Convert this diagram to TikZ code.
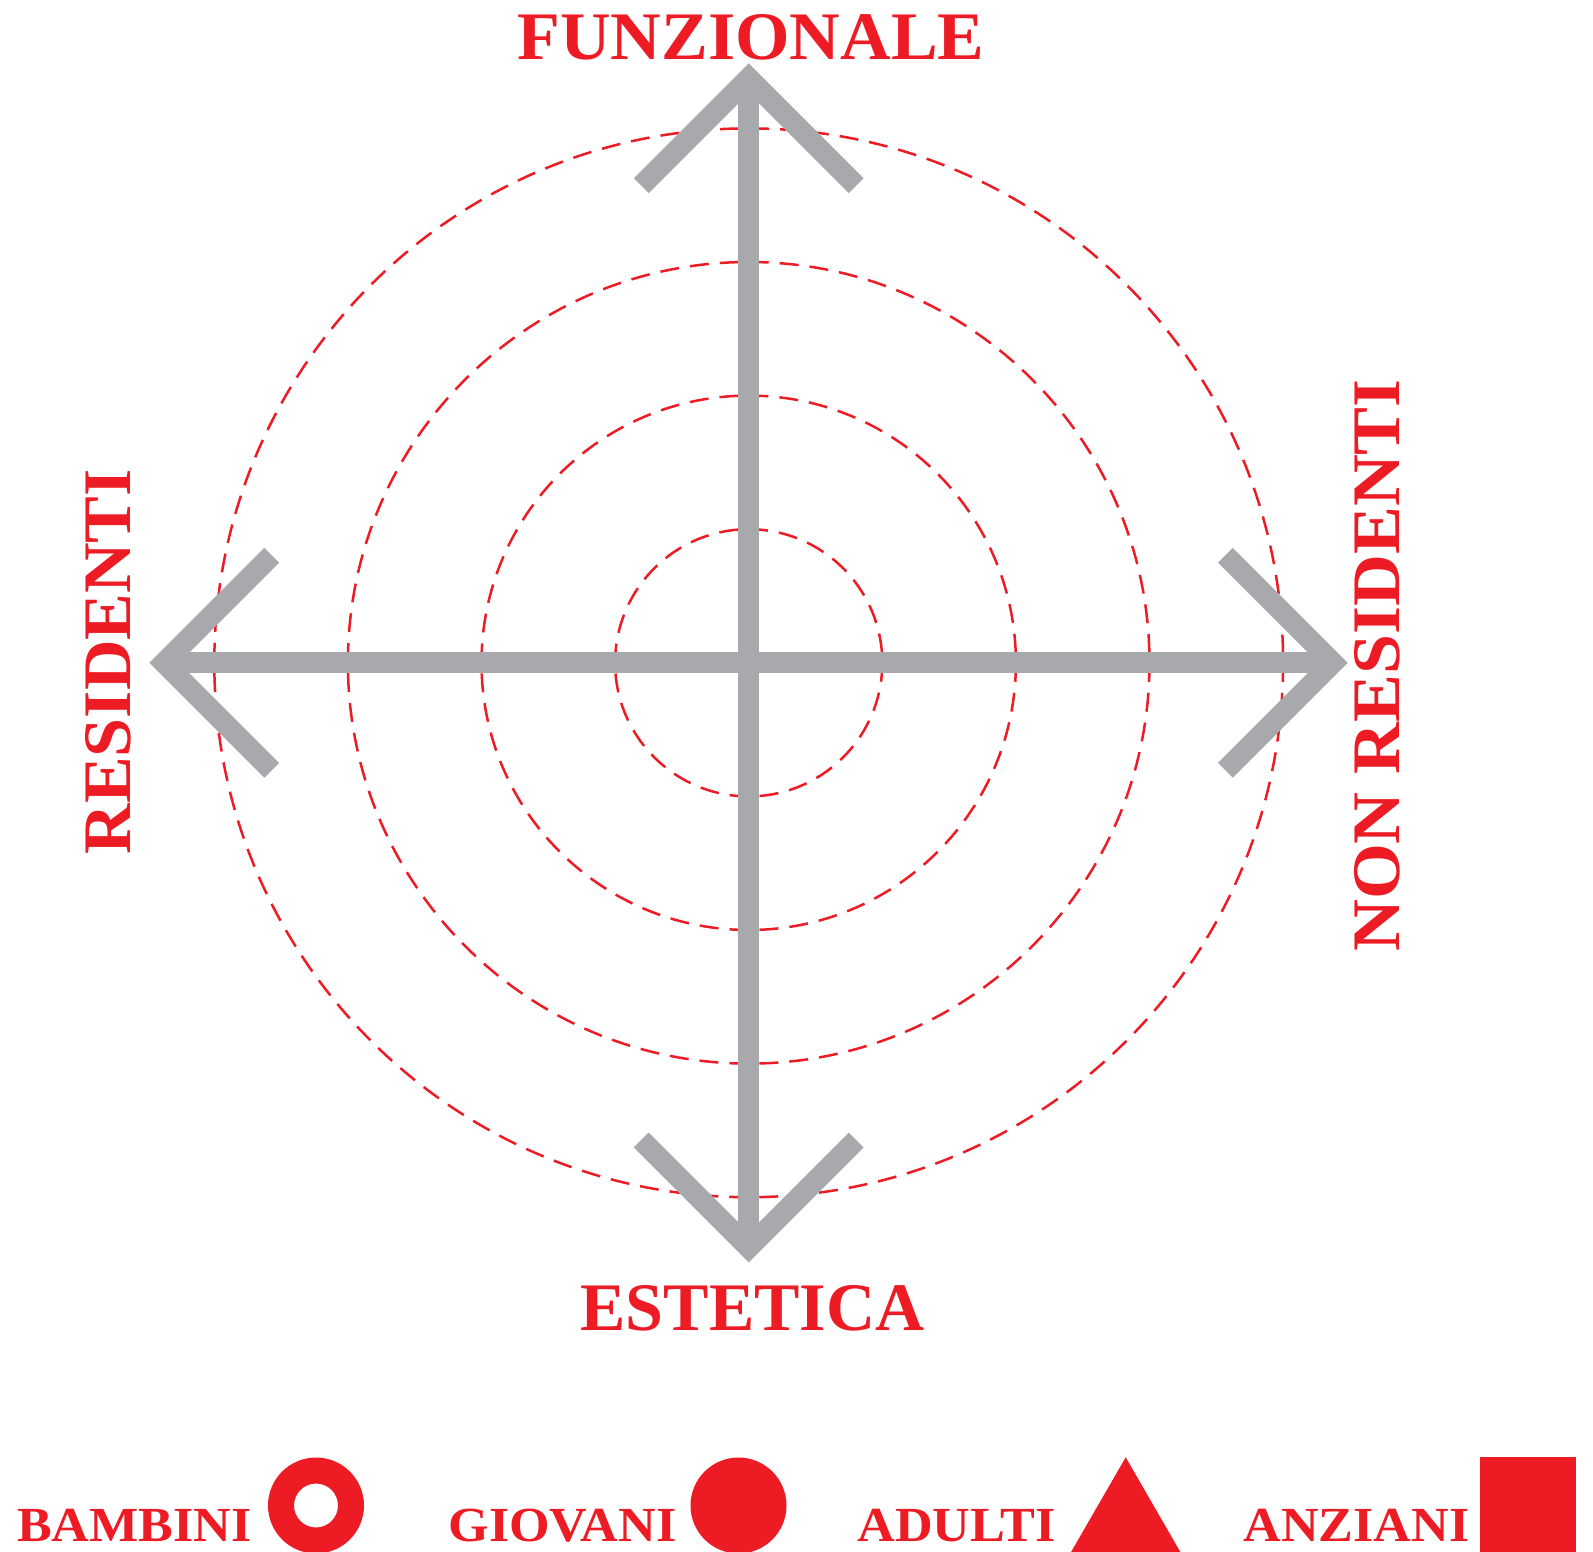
\documentclass[tikz,border=0pt]{standalone}
\usepackage{fontspec}
\usetikzlibrary{calc}
\newfontfamily\labfont{Liberation Serif}[FakeStretch=1.03]
\newfontfamily\labfontn{Liberation Serif}[FakeStretch=1.0]
\newfontfamily\labfontw{Liberation Serif}[FakeStretch=1.056]
\newfontfamily\legfont{Liberation Serif}[FakeStretch=1.065]
\definecolor{myred}{HTML}{ED1C24}
\definecolor{mygray}{HTML}{A7A9AC}
\tikzset{
  ring/.style={draw=myred, line width=2.5pt, dash pattern=on 19pt off 11pt},
  axis/.style={draw=mygray, line width=21pt},
  chev/.style={draw=mygray, line width=21pt, line join=miter, miter limit=10},
  biglabel/.style={text=myred, inner sep=0pt, anchor=base, font=\labfont\bfseries\fontsize{68}{80}\selectfont},
  leglabel/.style={text=myred, inner sep=0pt, anchor=base, font=\legfont\bfseries\fontsize{49}{58}\selectfont},
  legsym/.style={fill=myred}
}
\begin{document}
\begin{tikzpicture}[x=1pt,y=-1pt]
\useasboundingbox (0,0) rectangle (1593,1552);
\coordinate (C) at (748.7,662.8);
\coordinate (N) at (748.7,78.2);
\coordinate (S) at (748.7,1247.5);
\coordinate (W) at (164.2,662.8);
\coordinate (E) at (1332.9,662.8);
% dashed circles
\foreach \r in {133.6,267.2,400.8,534.4}{
  \draw[ring] (C) circle[radius=\r];
}
% axes
\draw[axis] (N) -- (S);
\draw[axis] (W) -- (E);
% arrow heads
\draw[chev] ($(N)+(-107.5,107.5)$) -- (N) -- ($(N)+(107.5,107.5)$);
\draw[chev] ($(S)+(-107.5,-107.5)$) -- (S) -- ($(S)+(107.5,-107.5)$);
\draw[chev] ($(W)+(107.5,-107.5)$) -- (W) -- ($(W)+(107.5,107.5)$);
\draw[chev] ($(E)+(-107.5,-107.5)$) -- (E) -- ($(E)+(-107.5,107.5)$);
% labels
\node[biglabel] (fun) at (751,60) {FUNZIONALE};
\node[biglabel, font=\labfontn\bfseries\fontsize{68}{80}\selectfont] (est) at (752.5,1330.5) {ESTETICA};
\node[biglabel, rotate=90] (res) at (130,661.7) {RESIDENTI};
\node[biglabel, rotate=90, font=\labfontw\bfseries\fontsize{68}{80}\selectfont] (nres) at (1399,665.5) {NON RESIDENTI};
% legend
\node[leglabel] (bam) at (134.5,1541) {BAMBINI};
\node[leglabel] (gio) at (562.5,1541) {GIOVANI};
\node[leglabel] (adu) at (956.5,1541) {ADULTI};
\node[leglabel] (anz) at (1356.5,1541) {ANZIANI};
\fill[legsym, even odd rule] (316,1505.5) circle[radius=48] (316,1505.5) circle[radius=22];
\fill[legsym] (738.5,1505.5) circle[radius=48];
\fill[legsym] (1125.7,1457.3) -- (1181.1,1553.3) -- (1070.3,1553.3) -- cycle;
\fill[legsym] (1480.3,1457.3) rectangle (1576.4,1553.3);
\end{tikzpicture}
\end{document}
